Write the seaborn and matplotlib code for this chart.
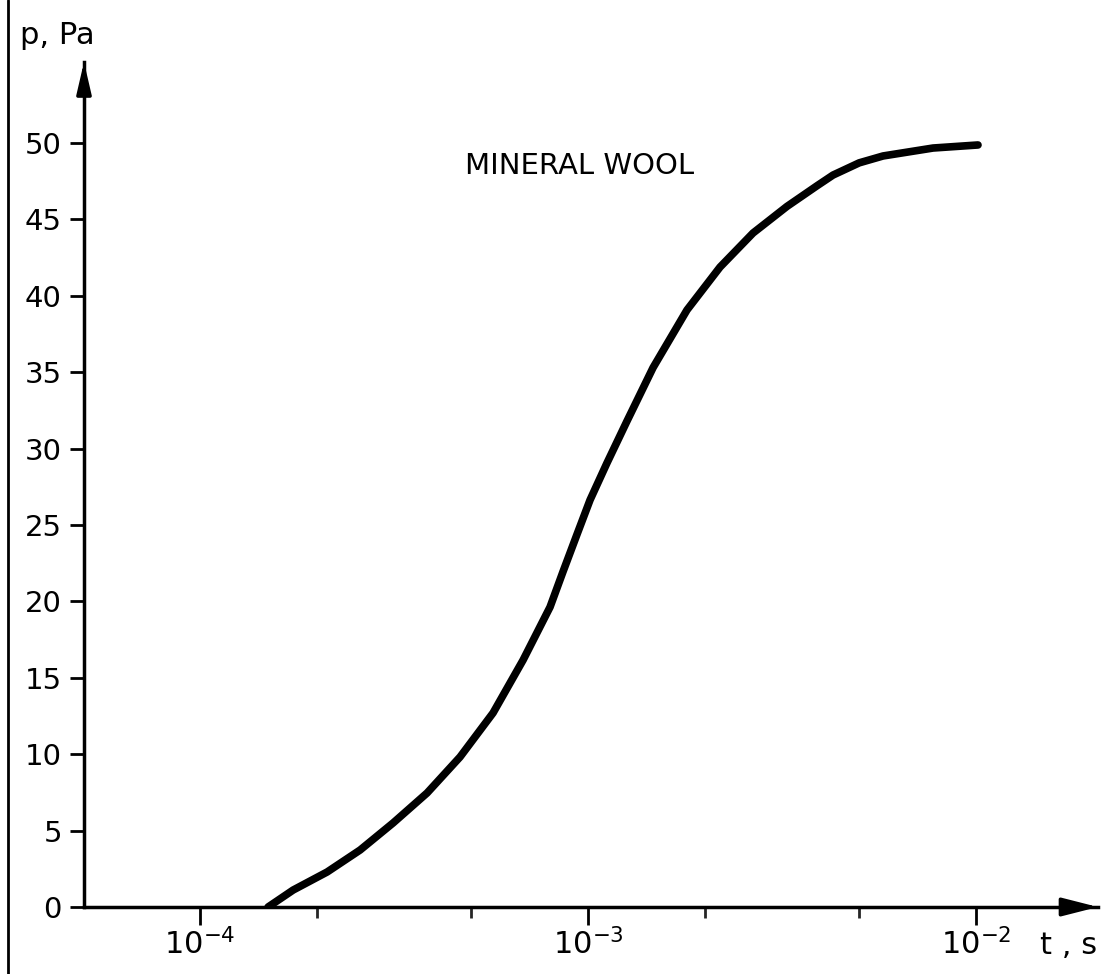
import numpy as np
import pandas as pd
import seaborn as sns
import matplotlib
matplotlib.use("Agg")
import matplotlib.pyplot as plt
from matplotlib.lines import Line2D
from matplotlib.ticker import FixedLocator, NullFormatter

# ---- data ----
t_s = [1.497e-4, 1.737e-4, 2.125e-4, 2.585e-4, 3.144e-4, 3.846e-4, 4.678e-4,
       5.69e-4, 6.80e-4, 7.98e-4, 8.62e-4, 9.37e-4, 1.012e-3, 1.119e-3,
       1.26e-3, 1.471e-3, 1.799e-3, 2.189e-3, 2.663e-3, 3.257e-3, 3.892e-3,
       4.28e-3, 5.0e-3, 5.76e-3, 7.75e-3, 1.012e-2]
p_pa = [0.0, 1.11, 2.29, 3.73, 5.50, 7.46, 9.82,
        12.70, 16.16, 19.63, 21.95, 24.40, 26.64, 29.06,
        31.80, 35.30, 39.07, 41.88, 44.11, 45.85, 47.20,
        47.90, 48.70, 49.15, 49.67, 49.87]
y_ticks = [0, 5, 10, 15, 20, 25, 30, 35, 40, 45, 50]
x_major = [1e-4, 1e-3, 1e-2]
x_major_labels = [r"$10^{-4}$", r"$10^{-3}$", r"$10^{-2}$"]
x_minor = [2e-4, 5e-4, 2e-3, 5e-3]
label_curve = "MINERAL WOOL"

df = pd.DataFrame({"t": t_s, "p": p_pa})

sns.set_style("white")
plt.rcParams["font.family"] = ["DejaVu Sans"]
plt.rcParams["text.color"] = "black"

W, H = 1101, 974
fig = plt.figure(figsize=(W / 100, H / 100), dpi=100)
ax = fig.add_axes([84 / W, (H - 907) / H, (1098 - 84) / W, (907 - 62) / H])
ax.set_facecolor("none")

sns.lineplot(data=df, x="t", y="p", ax=ax, color="black", lw=5.5,
             solid_capstyle="round", solid_joinstyle="round", sort=False)
ax.set_xscale("log")
ax.set_xlim(5.02e-5, 2.063e-2)
ax.set_ylim(0, 55.3)

for s in ["top", "right"]:
    ax.spines[s].set_visible(False)
for s in ["left", "bottom"]:
    ax.spines[s].set_linewidth(2.5)
    ax.spines[s].set_color("black")

# arrow heads
ax.annotate("", xy=(1.0, 0), xytext=(0.97, 0), xycoords="axes fraction",
            arrowprops=dict(arrowstyle="-|>,head_length=1.1,head_width=0.28",
                            color="black", lw=2.5, shrinkA=0, shrinkB=0,
                            mutation_scale=20))
ax.annotate("", xy=(0, 1.0), xytext=(0, 0.96), xycoords="axes fraction",
            arrowprops=dict(arrowstyle="-|>,head_length=0.95,head_width=0.22",
                            color="black", lw=2.5, shrinkA=0, shrinkB=0,
                            mutation_scale=20))

ax.set_yticks(y_ticks)
ax.set_yticklabels([str(v) for v in y_ticks])
ax.tick_params(axis="y", direction="out", length=10, width=2, pad=6,
               labelsize=21, colors="black", left=True)

ax.xaxis.set_major_locator(FixedLocator(x_major))
ax.set_xticklabels(x_major_labels)
ax.xaxis.set_minor_locator(FixedLocator(x_minor))
ax.xaxis.set_minor_formatter(NullFormatter())
ax.tick_params(axis="x", which="major", direction="out", length=13, width=2,
               pad=2, labelsize=22, colors="black", bottom=True)
ax.tick_params(axis="x", which="minor", direction="out", length=8, width=2,
               bottom=True)

ax.set_xlabel("")
ax.set_ylabel("")

fig.text(1040 / W, 1 - 945 / H, "t , s", fontsize=22, ha="left", va="center",
         color="black")
fig.text(20 / W, 1 - 35 / H, "p, Pa", fontsize=22, ha="left", va="center",
         color="black")
fig.text(465 / W, 1 - 166 / H, label_curve, fontsize=21, ha="left",
         va="center", color="black")

# scan border line on the left edge
fig.add_artist(Line2D([8 / W, 8 / W], [0, 1], transform=fig.transFigure,
                      color="black", lw=2))

fig.savefig("out.png", dpi=100, facecolor="white")
